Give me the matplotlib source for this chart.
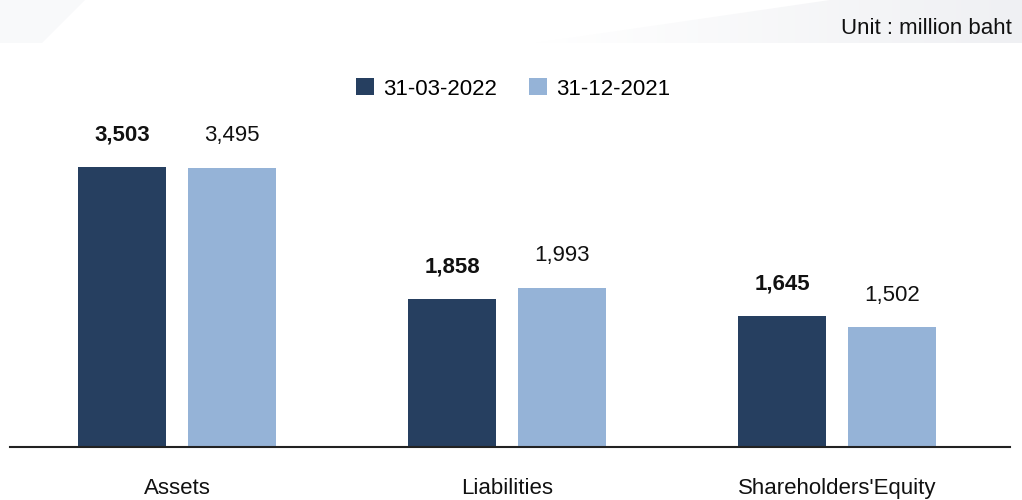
import numpy as np
import matplotlib.pyplot as plt
from matplotlib.patches import Polygon

plt.rcParams['font.family'] = ['Liberation Sans', 'DejaVu Sans']

# data
categories = ["Assets", "Liabilities", "Shareholders'Equity"]
series_names = ["31-03-2022", "31-12-2021"]
q1_2022 = [3503, 1858, 1645]
q4_2021 = [3495, 1993, 1502]

dark = '#263f60'
light = '#95b3d7'

fig = plt.figure(figsize=(10.22, 5.0), dpi=100)

# faint background shapes at the top
bg = fig.add_axes([0, 0, 1, 1], zorder=-10)
bg.set_xlim(0, 1022)
bg.set_ylim(500, 0)
bg.axis('off')
bg.add_patch(Polygon([(0, 0), (85, 0), (42, 43), (0, 43)], closed=True,
                     facecolor='#f8f9fa', edgecolor='none'))
wedge = Polygon([(535, 43), (830, 0), (1022, 0), (1022, 43)], closed=True,
                facecolor='none', edgecolor='none')
bg.add_patch(wedge)
grad = np.linspace(0, 1, 256).reshape(1, -1)
img = bg.imshow(grad, extent=[535, 1022, 43, 0], aspect='auto',
                cmap=plt.matplotlib.colors.LinearSegmentedColormap.from_list(
                    'g', ['#ffffff', '#eff0f3']), zorder=0)
img.set_clip_path(wedge)

ax = fig.add_axes([10 / 1022, 53 / 500, 1000 / 1022, 387 / 500])
x = np.arange(len(categories))
w = 0.2667
off = 0.1667
b1 = ax.bar(x - off, q1_2022, w, color=dark, label=series_names[0])
b2 = ax.bar(x + off, q4_2021, w, color=light, label=series_names[1])

ax.set_xlim(-0.506, 2.524)
ax.set_ylim(0, 4843)

for xi, v in zip(x, q1_2022):
    ax.annotate(f"{v:,}", (xi - off, v), xytext=(0, 23), textcoords='offset points',
                ha='center', va='center', fontsize=16, fontweight='bold', color='#111111')
for xi, v in zip(x, q4_2021):
    ax.annotate(f"{v:,}", (xi + off, v), xytext=(0, 23), textcoords='offset points',
                ha='center', va='center', fontsize=16, color='#111111')

for s in ['top', 'right', 'left']:
    ax.spines[s].set_visible(False)
ax.spines['bottom'].set_color('#222222')
ax.spines['bottom'].set_linewidth(1.5)
ax.set_yticks([])
ax.set_xticks(x)
ax.set_xticklabels(categories, fontsize=16, color='#111111')
ax.tick_params(axis='x', length=0, pad=22)
ax.patch.set_alpha(0)

fig.legend(handles=[b1, b2], labels=series_names, loc='center',
           bbox_to_anchor=(513 / 1022, 1 - 89 / 500), ncol=2, frameon=False,
           fontsize=16, handlelength=0.81, handleheight=0.81, handletextpad=0.4,
           columnspacing=1.44)

fig.text(1012 / 1022, 1 - 28 / 500, "Unit : million baht", ha='right', va='center',
         fontsize=16, color='#111111')

fig.savefig('out.png', dpi=100)
